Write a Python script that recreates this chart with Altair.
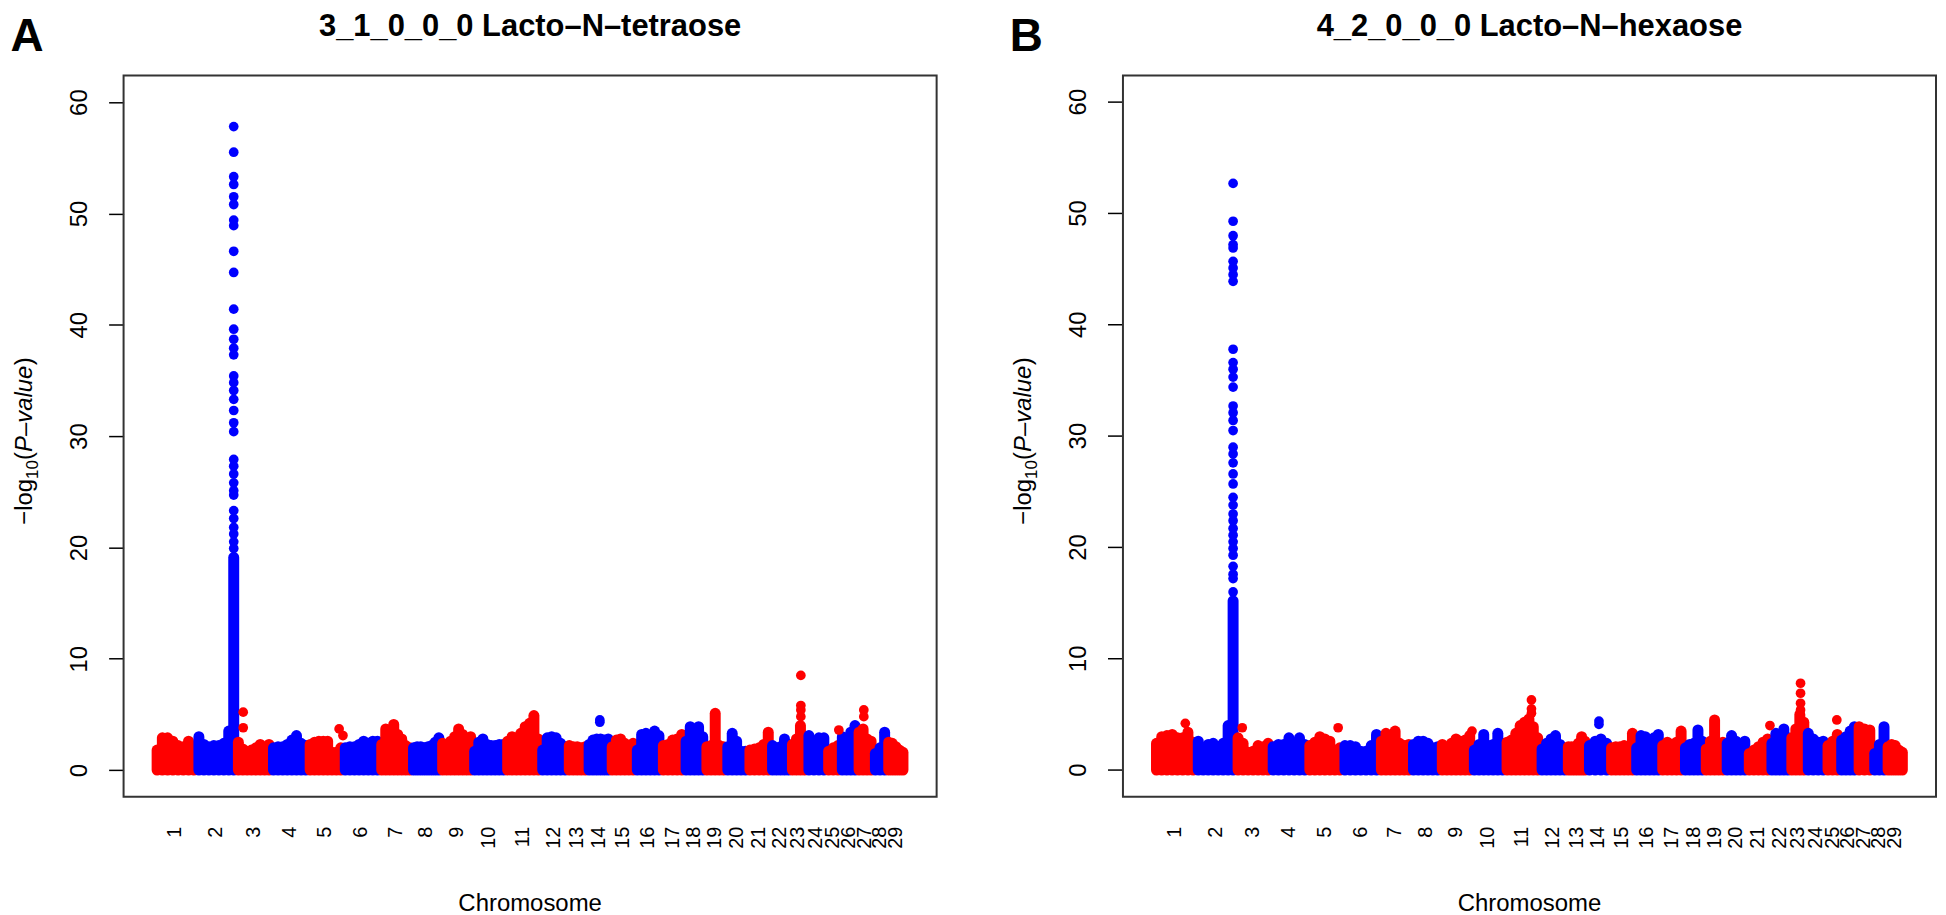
import altair as alt
import pandas as pd

# ---------------- data ----------------
chromosomes = list(range(1, 30))
# approximate chromosome spans (Mb), proportional to their width on the axis
chrom_span_mb = [139, 132, 116, 122, 116, 122, 106, 96, 106, 109, 116, 89, 66, 76,
                 83, 86, 76, 69, 69, 73, 76, 66, 53, 66, 46, 56, 53, 46, 59]
y_ticks = [0, 10, 20, 30, 40, 50, 60]

titles = ["3_1_0_0_0 Lacto\u2013N\u2013tetraose", "4_2_0_0_0 Lacto\u2013N\u2013hexaose"]
letters = ["A", "B"]

# upper envelope of the dense SNP cloud, sampled along each chromosome
band_A = {
    1: [1.8, 2.9, 2.9, 2.6, 2.2, 2.1, 2.6, 2.0],
    2: [3.0, 2.3, 2.1, 2.2, 2.2, 2.4, 3.5, 19.1],
    3: [2.5, 1.9, 1.7, 1.8, 2.0, 2.3, 2.0, 2.3],
    4: [2.0, 2.1, 2.1, 2.3, 2.7, 3.1, 2.4, 2.2],
    5: [2.3, 2.5, 2.6, 2.6, 2.6, 1.6, 1.6, 2.0],
    6: [2.0, 2.1, 2.1, 2.3, 2.6, 2.4, 2.6, 2.6],
    7: [2.3, 3.7, 3.4, 4.1, 3.2, 2.8, 2.2, 2.0],
    8: [2.0, 2.1, 2.1, 2.0, 2.1, 2.2, 2.5, 2.9],
    9: [2.4, 2.2, 2.6, 3.0, 3.7, 3.2, 2.7, 3.0],
    10: [1.7, 2.5, 2.8, 2.3, 2.2, 2.2, 2.3, 2.3],
    11: [2.6, 3.0, 2.9, 3.3, 3.9, 4.2, 4.9, 2.8],
    12: [1.8, 2.9, 3.0, 2.9, 2.4, 2.1],
    13: [2.2, 2.1, 2.1, 2.0, 2.1],
    14: [2.3, 2.7, 2.8, 2.8, 2.7, 2.8],
    15: [2.1, 2.7, 2.8, 2.4, 2.1, 2.4],
    16: [1.8, 3.2, 3.3, 3.0, 3.5, 3.1],
    17: [2.2, 2.3, 2.7, 2.8, 3.2],
    18: [2.6, 3.9, 3.0, 3.9, 3.0],
    19: [2.1, 2.2, 5.1, 2.2, 2.1],
    20: [2.1, 3.3, 2.6, 1.7, 1.7],
    21: [1.8, 1.9, 2.0, 2.3, 3.4],
    22: [2.2, 2.0, 2.1, 2.8, 2.3],
    23: [2.3, 2.8, 4.0, 3.0],
    24: [3.1, 2.5, 2.9, 2.9],
    25: [1.7, 2.0, 2.2],
    26: [3.0, 2.6, 3.4, 4.0],
    27: [3.4, 3.7, 2.8, 2.6],
    28: [1.5, 2.0, 3.4],
    29: [2.5, 2.4, 2.1, 1.8, 1.6],
}
# isolated SNPs of the chromosome-2 peak (above the solid column)
column_A = [57.8, 55.5, 53.3, 52.6, 51.5, 50.8, 49.4, 48.9, 46.6, 44.7, 41.4, 39.6,
            38.7, 37.9, 37.3, 35.4, 34.8, 34.1, 33.3, 32.3, 31.2, 30.4, 27.9, 27.3,
            26.6, 25.8, 25.1, 24.7, 23.3, 22.6, 21.8, 21.2, 20.5, 19.9]
# other isolated SNPs: (chromosome, fraction along chromosome, -log10 P)
peaks_A = [(3, 0.2, 5.2), (3, 0.2, 3.8), (5, 0.89, 3.7), (5, 1.0, 3.1),
           (14, 0.55, 4.5), (14, 0.55, 4.3), (23, 0.65, 8.5), (23, 0.65, 5.8),
           (23, 0.65, 5.4), (23, 0.65, 4.8), (25, 0.9, 3.6), (27, 0.42, 5.4),
           (27, 0.42, 4.8)]

band_B = {
    1: [2.4, 3.0, 3.1, 3.2, 2.9, 2.9, 3.4, 2.5],
    2: [2.6, 2.0, 2.3, 2.4, 2.1, 2.4, 4.0, 15.2],
    3: [2.9, 2.4, 1.6, 1.7, 2.2, 2.1, 2.4],
    4: [2.1, 2.3, 2.3, 2.9, 2.4, 2.9, 2.3],
    5: [2.2, 2.5, 3.0, 2.8, 2.6, 1.8, 2.0],
    6: [2.2, 2.2, 2.1, 1.7, 1.7, 2.2, 3.2],
    7: [2.6, 3.3, 2.8, 3.5, 2.4, 2.2, 2.3],
    8: [2.3, 2.6, 2.6, 2.4, 2.0, 2.1],
    9: [2.3, 2.0, 2.4, 2.8, 2.6, 2.7, 3.1],
    10: [1.8, 2.3, 3.2, 2.2, 2.3, 3.3, 2.4],
    11: [2.5, 2.7, 3.3, 4.0, 4.3, 4.6, 3.9, 2.9],
    12: [1.9, 2.4, 2.8, 3.1, 2.3, 1.8],
    13: [2.1, 2.1, 2.1, 2.4, 3.0, 2.6],
    14: [2.2, 2.6, 2.8, 2.4],
    15: [2.0, 2.1, 2.1, 2.2, 2.0, 3.3],
    16: [2.0, 3.1, 3.0, 2.5, 2.9, 3.2],
    17: [2.2, 2.5, 2.3, 2.5, 3.5],
    18: [2.0, 2.3, 2.4, 3.6, 2.6],
    19: [1.9, 2.6, 4.5, 2.4, 2.5],
    20: [2.4, 3.1, 2.6, 2.3, 2.6],
    21: [1.5, 1.8, 2.1, 2.5, 2.8],
    22: [2.4, 3.3, 3.0, 3.7, 2.9],
    23: [2.9, 3.7, 5.0, 4.3],
    24: [3.3, 2.8, 2.5, 2.6],
    25: [2.2, 2.6, 3.2],
    26: [2.7, 3.0, 3.5, 3.9],
    27: [3.9, 3.7, 3.6],
    28: [1.5, 2.3, 3.9],
    29: [2.1, 2.3, 2.2, 1.8, 1.6],
}
column_B = [52.7, 49.3, 48.0, 47.2, 46.9, 45.7, 45.1, 44.5, 43.9, 37.8, 36.6, 36.0,
            35.3, 34.4, 32.7, 32.1, 31.4, 30.5, 29.0, 28.4, 27.6, 26.6, 25.7, 24.5,
            23.8, 23.0, 22.4, 21.7, 21.1, 20.5, 19.9, 19.3, 18.3, 17.6, 17.2, 16.0]
peaks_B = [(1, 0.75, 4.2), (3, 0.19, 3.8), (5, 0.88, 3.8), (9, 1.0, 3.5),
           (11, 0.76, 6.3), (11, 0.76, 5.5), (11, 0.76, 5.1), (14, 0.54, 4.4),
           (14, 0.54, 4.1), (21, 1.0, 4.0), (23, 0.67, 7.8), (23, 0.67, 6.9),
           (23, 0.67, 6.0), (23, 0.67, 5.4), (25, 0.8, 4.5)]

# ---------------- layout / style ----------------
PW, H = 816, 724          # one panel's plot box
GAP = 187                 # gap between the two boxes
TOTAL_W = 2 * PW + GAP
RED, BLUE = "#FF0000", "#0000FF"
FONT = "Liberation Sans"
BOX = "#333333"
DOT = 11                  # dot diameter in px

starts = []
acc = 0
for s in chrom_span_mb:
    starts.append(acc)
    acc += s
total = acc

# each panel: R-style 4% padding around the data range
xmin, xmax = -0.0412 * total, 1.0425 * total
unit_per_px = (xmax - xmin) / PW
offsets = [0.0, (PW + GAP) * unit_per_px]   # panel B shifted right
xscale = alt.Scale(domain=[xmin, xmin + TOTAL_W * unit_per_px], nice=False, zero=False)
yscale = alt.Scale(domain=[-2.4, 62.4], nice=False, zero=False)
yaxis = alt.Axis(values=y_ticks, labelAngle=270, labelAlign="center",
                 labelBaseline="middle", labelPadding=29, tickSize=15,
                 tickColor="black", tickWidth=1.5, domain=False, grid=False,
                 title=None, labelFont=FONT, labelFontSize=24, labelColor="black")
color = alt.Color("parity:N", scale=alt.Scale(domain=["odd", "even"], range=[RED, BLUE]),
                  legend=None)

rules, pts, labels, yt = [], [], [], []
for p, (band, column, peaks) in enumerate([(band_A, column_A, peaks_A),
                                           (band_B, column_B, peaks_B)]):
    off = offsets[p]
    for c in chromosomes:
        hs = band[c]
        k = len(hs)
        for j, h in enumerate(hs):
            rules.append({"pos": off + starts[c - 1] + chrom_span_mb[c - 1] * (j + 0.5) / k,
                          "top": h, "base": 0.0, "parity": "odd" if c % 2 else "even"})
        labels.append({"mid": off + starts[c - 1] + chrom_span_mb[c - 1] / 2, "label": str(c)})
    for v in column:
        pts.append({"pos": off + starts[1] + chrom_span_mb[1] * 7.5 / 8, "val": v,
                    "parity": "even"})
    for c, f, v in peaks:
        pts.append({"pos": off + starts[c - 1] + chrom_span_mb[c - 1] * f, "val": v,
                    "parity": "odd" if c % 2 else "even"})
for v in y_ticks:
    yt.append({"v": v, "label": str(v)})

X = alt.X("pos:Q", scale=xscale, axis=None)

rule_layer = alt.Chart(pd.DataFrame(rules)).mark_rule(strokeWidth=DOT, strokeCap="round").encode(
    x=X, y=alt.Y("top:Q", scale=yscale, axis=yaxis), y2="base:Q", color=color)
pt_layer = alt.Chart(pd.DataFrame(pts)).mark_circle(size=3.1416 * (DOT / 2) ** 2, opacity=1).encode(
    x=X, y=alt.Y("val:Q", scale=yscale, axis=yaxis), color=color)
xlab = alt.Chart(pd.DataFrame(labels)).mark_text(
    angle=270, align="right", baseline="middle", fontSize=20, font=FONT, color="black").encode(
    x=alt.X("mid:Q", scale=xscale, axis=None), y=alt.value(H + 30), text="label:N")

# y ticks and labels of the right-hand panel (same y scale)
ytdf = pd.DataFrame(yt)
bx = PW + GAP
ytick_B = alt.Chart(ytdf).mark_rule(color="black", strokeWidth=1.5).encode(
    y=alt.Y("v:Q", scale=yscale, axis=yaxis), x=alt.value(bx - 15), x2=alt.value(bx))
ylab_B = alt.Chart(ytdf).mark_text(angle=270, align="center", baseline="middle",
                                   fontSize=24, font=FONT, color="black").encode(
    y=alt.Y("v:Q", scale=yscale, axis=yaxis), x=alt.value(bx - 44), text="label:N")


def text_layer(txt, x, y, **kw):
    return alt.Chart(pd.DataFrame({"t": [txt]})).mark_text(font=FONT, color="black", **kw).encode(
        text="t:N", x=alt.value(x), y=alt.value(y))


def box(x0):
    return alt.Chart(pd.DataFrame({"t": [0]})).mark_rect(
        filled=False, stroke=BOX, strokeWidth=2).encode(
        x=alt.value(x0), x2=alt.value(x0 + PW), y=alt.value(0), y2=alt.value(H))


YT = -92   # baseline of the rotated y-axis title, relative to the box's left edge
decor = []
for p in range(2):
    x0 = p * (PW + GAP)
    decor += [
        box(x0),
        text_layer(titles[p], x0 + PW / 2, -49, fontSize=31, fontWeight="bold", baseline="middle"),
        text_layer(letters[p], x0 - 97, -24, fontSize=46, fontWeight="bold", baseline="alphabetic"),
        text_layer("Chromosome", x0 + PW / 2, 839, fontSize=24, baseline="alphabetic"),
        # y-axis title: -log10(P-value)
        text_layer("\u2212log", x0 + YT, 451, fontSize=24, angle=270, align="left",
                   baseline="alphabetic"),
        text_layer("10", x0 + YT + 6, 405, fontSize=17, angle=270, align="left",
                   baseline="alphabetic"),
        text_layer("(", x0 + YT, 386, fontSize=24, angle=270, align="left",
                   baseline="alphabetic"),
        text_layer("P\u2013value", x0 + YT, 378, fontSize=24, angle=270, align="left",
                   baseline="alphabetic", fontStyle="italic"),
        text_layer(")", x0 + YT, 291, fontSize=24, angle=270, align="left",
                   baseline="alphabetic"),
    ]

chart = alt.layer(rule_layer, pt_layer, xlab, ytick_B, ylab_B, *decor).properties(
    width=TOTAL_W, height=H,
    autosize=alt.AutoSizeParams(type="none"),
    padding={"left": 116, "top": 66, "right": 2, "bottom": 117},
).configure_view(stroke=None)

chart.save("out.html", embed_options={"renderer": "svg", "actions": False})
